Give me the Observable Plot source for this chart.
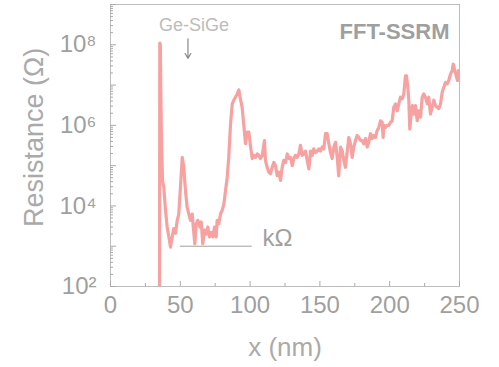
<!DOCTYPE html>
<html><head><meta charset="utf-8">
<script src="https://cdn.jsdelivr.net/npm/d3@7"></script>
<script src="https://cdn.jsdelivr.net/npm/@observablehq/plot@0.6"></script>
<style>body{margin:0;background:#fff}</style>
</head><body><div id="chart"></div>
<script>
// Position along the line scan (nm)
const positionNm = [
  35.1, 35.3, 35.7, 36.0, 36.4, 37.25, 38.2, 39.4, 40.6, 41.8, 43.0, 44.2, 45.3, 46.6, 47.8, 48.9,
  50.1, 51.4, 52.5, 53.7, 54.9, 56.1, 57.3, 58.5, 59.7, 60.4, 61.4, 62.5, 64.0, 65.0, 66.1, 67.3,
  68.6, 69.7, 70.9, 72.1, 73.3, 74.5, 75.7, 76.4, 77.6, 78.8, 80.0, 81.2, 82.4, 83.6, 84.7, 86.0,
  87.2, 88.3, 89.5, 90.8, 91.9, 93.1, 94.3, 95.5, 96.7, 97.9, 99.1, 100.3, 101.5, 102.7, 103.9, 105.1,
  106.2, 107.4, 108.7, 110.3, 111.0, 112.2, 113.4, 114.6, 115.8, 117.0, 118.2, 119.4, 120.6, 121.8, 123.0, 124.1,
  125.4, 126.6, 127.7, 128.9, 130.2, 131.3, 132.5, 133.7, 134.9, 136.1, 137.3, 138.5, 139.7, 140.9, 142.1, 143.3,
  144.5, 145.6, 146.8, 148.1, 149.2, 150.4, 151.6, 152.8, 154.0, 155.2, 156.4, 157.6, 158.8, 160.0, 161.2, 162.4,
  163.5, 164.8, 166.0, 167.1, 168.3, 169.6, 170.7, 171.9, 173.1, 174.3, 175.5, 176.7, 177.9, 179.1, 180.3, 181.4,
  182.7, 183.9, 185.0, 186.2, 187.5, 188.6, 189.8, 191.0, 192.2, 193.4, 194.6, 195.3, 195.8, 197.0, 198.2, 199.4,
  200.6, 201.8, 202.9, 204.2, 205.4, 206.5, 207.7, 209.0, 210.1, 211.3, 212.0, 213.0, 213.7, 214.4, 215.4, 216.3,
  217.3, 218.5, 219.7, 220.8, 222.1, 223.3, 224.4, 225.6, 226.9, 228.0, 229.2, 230.4, 231.6, 232.8, 234.0, 235.2,
  236.4, 237.6, 238.8, 240.0, 241.2, 242.3, 243.6, 244.8, 245.5, 246.4, 247.3, 248.6, 249.3, 250.2
];
// Resistance (Ohm)
const resistanceOhm = [
  1e1, 1.1e8, 1.0e8, 1e7, 8e5, 4.3e4, 2.9e4, 7.8e3, 3.0e3, 1.7e3, 9.5e2, 1.7e3, 2.75e3, 2.1e3, 4.4e3, 6.3e3,
  2.9e4, 1.6e5, 9.1e4, 2.4e4, 9.3e3, 6.3e3, 4.4e3, 6.3e3, 2.1e3, 1.15e3, 3.6e3, 4.4e3, 3.0e3, 4.0e3, 1.15e3, 2.5e3,
  2.0e3, 3.0e3, 1.7e3, 2.2e3, 1.7e3, 3.0e3, 1.7e3, 4.4e3, 3.6e3, 6.3e3, 7.8e3, 1.1e4, 2.4e4, 5.1e4, 1.6e5, 1.1e6,
  3.4e6, 4.2e6, 5.0e6, 6.0e6, 7.6e6, 4.5e6, 2.8e6, 1.0e6, 3.5e5, 6.8e5, 6.8e5, 3.0e5, 1.5e5, 1.8e5, 1.6e5, 1.95e5,
  1.8e5, 1.5e5, 1.8e5, 4.2e5, 1.35e5, 9.1e4, 6.9e4, 6.3e4, 9.1e4, 1.2e5, 1.0e5, 5.6e4, 6.9e4, 4.3e4, 9.1e4, 1.35e5,
  1.2e5, 1.95e5, 1.5e5, 1.6e5, 1.0e5, 1.5e5, 1.8e5, 1.6e5, 1.95e5, 3.2e5, 1.8e5, 1.95e5, 2.3e5, 1.35e5, 8.3e4, 2.3e5,
  1.8e5, 2.6e5, 2.1e5, 2.3e5, 2.6e5, 2.3e5, 2.9e5, 2.6e5, 6.2e5, 6.2e5, 3.5e5, 2.1e5, 1.5e5, 2.9e5, 3.8e5, 1.6e5,
  5.6e4, 2.9e5, 2.3e5, 1.35e5, 9.1e4, 2.3e5, 5.0e5, 3.5e5, 1.6e5, 2.9e5, 4.2e5, 5.6e5, 5.0e5, 4.2e5, 4.2e5, 3.5e5,
  4.7e5, 2.9e5, 3.8e5, 6.2e5, 4.7e5, 5.6e5, 5.0e5, 7.4e5, 8.9e5, 1.3e6, 1.2e6, 5.0e5, 1.0e6, 8.9e5, 1.0e6, 1.0e6,
  1.2e6, 1.3e6, 2.8e6, 3.4e6, 2.3e6, 3.4e6, 5.0e6, 4.6e6, 6.0e6, 1.7e7, 1.7e7, 8.9e6, 4.2e6, 8.1e5, 1.9e6, 3.1e6,
  1.9e6, 3.1e6, 1.3e6, 2.3e6, 1.6e6, 5.0e6, 6.0e6, 5.0e6, 3.4e6, 5.0e6, 1.9e6, 2.8e6, 4.2e6, 3.1e6, 2.8e6, 2.6e6,
  3.4e6, 6.6e6, 8.9e6, 1.17e7, 1.07e7, 1.3e7, 1.9e7, 2.3e7, 3.3e7, 2.5e7, 1.9e7, 1.3e7, 2.3e7, 2.1e7
];

const xTicks = [0, 50, 100, 150, 200, 250];
const xMinorTicks = [25, 75, 125, 175, 225];
const yMajorTicks = [1e2, 1e3, 1e4, 1e5, 1e6, 1e7, 1e8, 1e9];
const yLabelTicks = [1e2, 1e4, 1e6, 1e8];
const yLabelText = ["10²", "10⁴", "10⁶", "10⁸"];
const xTitle = "x (nm)";
const yTitle = "Resistance (Ω)";
const panelTitle = "FFT-SSRM";
const interfaceLabel = "Ge-SiGe";
const interfaceArrow = {x: 55.5, yFrom: 1.4e8, yTo: 4.6e7};
const kOhmLine = {x1: 50, x2: 101.5, y: 1e3, label: "kΩ"};

const yMinorTicks = d3.scaleLog().domain([1e2, 1e9]).ticks().filter(v => !yMajorTicks.includes(v));
const data = positionNm.map((x, i) => ({x, r: resistanceOhm[i]}));

const grey = "#9f9f9f";
const font = "'Liberation Sans', Arial, sans-serif";

const chart = Plot.plot({
  width: 499,
  height: 367,
  marginLeft: 110,
  marginRight: 40,
  marginTop: 4,
  marginBottom: 81,
  style: {fontFamily: font, background: "#fff"},
  x: {domain: [0, 250]},
  y: {type: "log", domain: [1e2, 1e9]},
  marks: [
    Plot.line(data, {x: "x", y: "r", stroke: "#f7a1a1", strokeWidth: 3.2, clip: true, strokeLinejoin: "round"}),
    Plot.frame({stroke: "#bdbdbd"}),
    // inward ticks
    Plot.axisY({ticks: yMajorTicks, tickSize: -6, tickFormat: () => "", label: null, stroke: "#aaa"}),
    Plot.axisY({ticks: yMinorTicks, tickSize: -3, tickFormat: () => "", label: null, stroke: "#aaa"}),
    Plot.axisX({ticks: xTicks, tickSize: -5, tickFormat: () => "", label: null, stroke: "#aaa"}),
    Plot.axisX({ticks: xMinorTicks, tickSize: -3, tickFormat: () => "", label: null, stroke: "#aaa"}),
    // tick labels
    Plot.axisY({ticks: yLabelTicks, tickSize: 0, tickPadding: 14, fontSize: 24, fill: grey,
      tickFormat: d => yLabelText[yLabelTicks.indexOf(d)], label: null}),
    Plot.axisX({ticks: xTicks, tickSize: 0, tickPadding: 9, fontSize: 24, fill: grey, label: null}),
    // titles
    Plot.text([yTitle], {frameAnchor: "left", dx: -76, dy: -8, rotate: -90, lineAnchor: "middle", textAnchor: "middle", fontSize: 27, fill: "#aaa"}),
    Plot.text([xTitle], {frameAnchor: "bottom", dy: 61, lineAnchor: "middle", fontSize: 26, fill: "#aaa"}),
    Plot.text([panelTitle], {frameAnchor: "top-right", dx: -10, dy: 19, fontSize: 22, fontWeight: "bold", fill: grey}),
    // annotations
    Plot.text([interfaceLabel], {x: 59.8, y: 2.2e8, fontSize: 18, fill: "#bcbcbc", lineAnchor: "bottom"}),
    Plot.arrow([interfaceArrow], {x1: "x", x2: "x", y1: "yFrom", y2: "yTo", stroke: "#8a8a8a", strokeWidth: 1.2, headLength: 7}),
    Plot.ruleY([kOhmLine], {y: "y", x1: "x1", x2: "x2", stroke: "#a0a0a0", strokeWidth: 1}),
    Plot.text([kOhmLine], {x: 108.9, y: "y", text: "label", textAnchor: "start", lineAnchor: "bottom", fontSize: 24, fill: grey})
  ]
});
document.getElementById("chart").appendChild(chart);
</script>
</body></html>
